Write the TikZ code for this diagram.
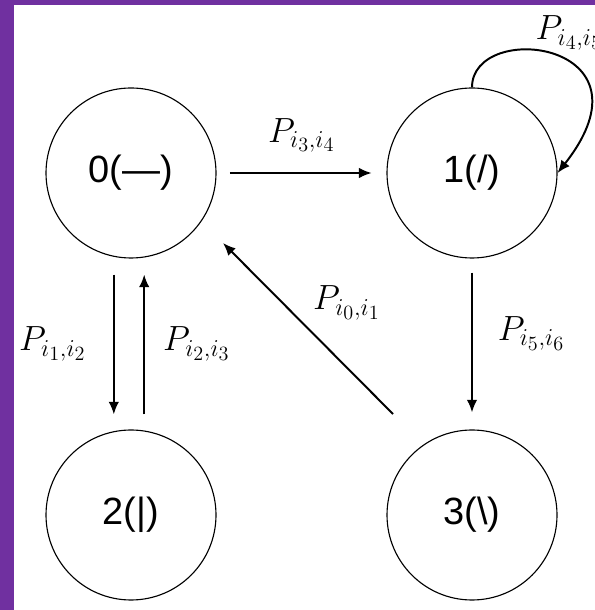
\documentclass[tikz,border=0pt]{standalone}
\usepackage{fontspec}
\newfontfamily\statefont{Liberation Sans}
\DeclareMathSizes{24}{24}{19}{14}
\usetikzlibrary{positioning,arrows.meta}
\definecolor{framepurple}{HTML}{7030A0}
\tikzset{every picture/.style={line width=1.4pt}}

\begin{document}
\begin{tikzpicture}[>={Latex[length=9pt,width=7.5pt]},
        state/.style={circle, draw, line width=0.8pt, minimum size=4.25cm, inner sep=0pt,
            font=\statefont\fontsize{27}{30}\selectfont},
        prob/.style={inner sep=0pt, font=\fontsize{24}{28}\selectfont}]
        % marco
        \fill[framepurple] (0,0) rectangle (14.875,15.25);
        \fill[white] (0.35,0) rectangle (14.875,15.125);
        \useasboundingbox (0,0) rectangle (14.875,15.25);
        % estados
        \node[state] (n0) at (3.275, 10.925) {0(—)};
        \node[state] (n1) at (11.8, 10.925)  {1(/)};
        \node[state] (n2) at (3.275, 2.375)  {2(|)};
        \node[state] (n3) at (11.8, 2.375)   {3(\textbackslash)};
        % transiciones
        \draw[->, shorten <=0.33cm, shorten >=0.37cm] (n0.east) -- node[prob, above=0.5cm] (l34) {$P_{i_3,i_4}$} (n1.west);
        \draw[->, shorten <=0.4cm, shorten >=0.375cm] ([xshift=-0.43cm]n0.south) -- node[prob, left=0.67cm] (l12) {$P_{i_1,i_2}$} ([xshift=-0.43cm]n2.north);
        \draw[->, shorten <=0.375cm, shorten >=0.4cm] ([xshift=0.33cm]n2.north) -- node[prob, right=0.45cm] (l23) {$P_{i_2,i_3}$} ([xshift=0.33cm]n0.south);
        \draw[->, shorten <=0.35cm, shorten >=0.425cm] (n1.south) -- node[prob, pos=0.44, right=0.62cm] (l56) {$P_{i_5,i_6}$} (n3.north);
        \draw[->] ([shift={(-1.975,2.525)}]n3.center) -- ([shift={(2.3,-1.75)}]n0.center)
            node[prob, pos=0.475, anchor=south west, yshift=0.3cm] (l01) {$P_{i_0,i_1}$};
        % lazo
        \draw[->] (n1.north) .. controls +(0,1.7) and +(2.6,3.3) .. (n1.east)
            node[prob, pos=0.5, anchor=west, xshift=-0.48cm, yshift=0.56cm] (l45) {$P_{i_4,i_5}$};
    \end{tikzpicture}
\end{document}
